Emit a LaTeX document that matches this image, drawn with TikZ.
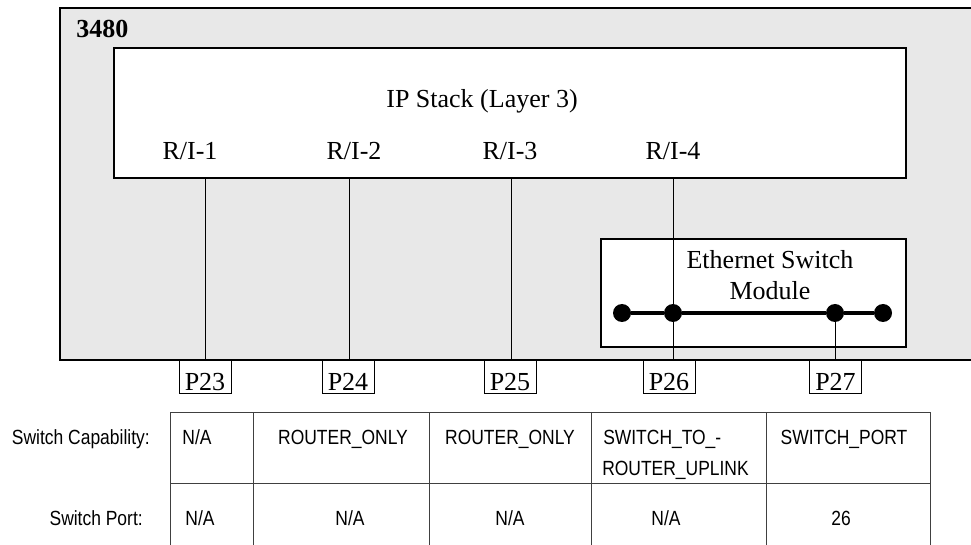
\documentclass[tikz,border=0pt]{standalone}
\usepackage{fontspec}
\setmainfont{Liberation Serif}
\newfontfamily\tabfont[FakeStretch=0.85]{Liberation Sans}
\definecolor{outerfill}{HTML}{E8E8E8}
\begin{document}
\begin{tikzpicture}[x=0.75pt,y=-0.75pt,
  serif/.style={font=\fontsize{19.5}{22}\selectfont, inner sep=0pt},
  tab/.style={font=\tabfont\fontsize{15.4}{18}\selectfont, inner sep=0pt},
  port/.style={draw, fill=white, line width=0.75pt, minimum width=39pt, minimum height=24.75pt,
    inner sep=0pt, text height=20.25pt, text depth=0pt, font=\fontsize{19.5}{22}\selectfont},
  boxline/.style={draw, line width=0.9pt},
  wire/.style={line width=0.75pt},
  bus/.style={line width=2.4pt},
  dotnode/.style={circle, fill=black, minimum size=13.5pt, inner sep=0pt},
  grid/.style={line width=0.75pt, draw=black!75},
]
\useasboundingbox (0,0) rectangle (971,545);
\begin{scope}
\clip (0,0) rectangle (971,545);
% outer chassis
\draw[fill=outerfill, line width=1.1pt] (60,8) rectangle (1000,360);
\end{scope}
\node[serif, font=\fontsize{19.5}{22}\selectfont\bfseries, anchor=base west] (title) at (76,38) {3480};

% IP stack box
\node[boxline, fill=white, minimum width=594pt, minimum height=97.5pt, inner sep=0pt] (ip) at (510,113) {};
\node[serif, anchor=base] (iplabel) at (482,108) {IP Stack (Layer 3)};
\node[serif, anchor=base] (ri1) at (190,160) {R/I-1};
\node[serif, anchor=base] (ri2) at (354,160) {R/I-2};
\node[serif, anchor=base] (ri3) at (510,160) {R/I-3};
\node[serif, anchor=base] (ri4) at (673,160) {R/I-4};

% Ethernet switch module
\node[boxline, fill=white, minimum width=228.75pt, minimum height=81pt, inner sep=0pt] (esm) at (753.5,293) {};
\node[serif, anchor=base] (esml1) at (770,269) {Ethernet Switch};
\node[serif, anchor=base] (esml2) at (770,300) {Module};

% ports
\node[port] (p23) at (205,376.5) {P23};
\node[port] (p24) at (348,376.5) {P24};
\node[port] (p25) at (510,376.5) {P25};
\node[port] (p26) at (669,377) {P26};
\node[port] (p27) at (835.5,376.5) {P27};

% interface tops
\coordinate (t1) at (205,178);
\coordinate (t2) at (349,178);
\coordinate (t3) at (511,178);
\coordinate (t4) at (673,178);

% dots
\node[dotnode] (d1) at (622,313) {};
\node[dotnode] (d2) at (673,313) {};
\node[dotnode] (d3) at (835,313) {};
\node[dotnode] (d4) at (883,313) {};

\draw[wire] (t1) -- (t1 |- p23.north);
\draw[wire] (t2) -- (t2 |- p24.north);
\draw[wire] (t3) -- (t3 |- p25.north);
\draw[wire] (t4) -- (t4 |- p26.north);
\draw[wire] (d3) -- (d3 |- p27.north);
\draw[bus] (d1) -- (d2) -- (d3) -- (d4);

% table
\draw[grid] (170,412) -- (930,412);
\draw[grid] (170,483) -- (930,483);
\foreach \xx in {170,253,429,591,766,930}{
  \draw[grid] (\xx,412) -- (\xx,545);
}
\node[tab, anchor=base east] (lcap) at (150,444) {Switch Capability:};
\node[tab, anchor=base east] (lport) at (143,525) {Switch Port:};

\node[tab, anchor=base] (c11) at (197,444) {N/A};
\node[tab, anchor=base] (c12) at (343,444) {ROUTER\_ONLY};
\node[tab, anchor=base] (c13) at (510,444) {ROUTER\_ONLY};
\node[tab, anchor=base west] (c14a) at (603,444) {SWITCH\_TO\_-};
\node[tab, anchor=base west] (c14b) at (602,475) {ROUTER\_UPLINK};
\node[tab, anchor=base] (c15) at (844,444) {SWITCH\_PORT};

\node[tab, anchor=base] (c21) at (200,525) {N/A};
\node[tab, anchor=base] (c22) at (350,525) {N/A};
\node[tab, anchor=base] (c23) at (510,525) {N/A};
\node[tab, anchor=base] (c24) at (666,525) {N/A};
\node[tab, anchor=base] (c25) at (841,525) {26};
\end{tikzpicture}
\end{document}
